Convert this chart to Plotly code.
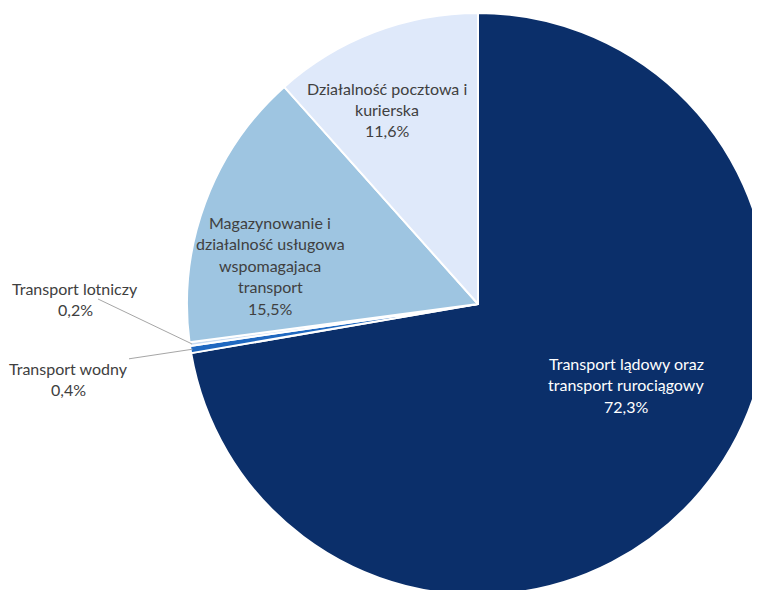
import math
import plotly.graph_objects as go

# ---- data ----
categories = [
    "Transport lądowy oraz transport rurociągowy",
    "Transport wodny",
    "Transport lotniczy",
    "Magazynowanie i działalność usługowa wspomagajaca transport",
    "Działalność pocztowa i kurierska",
]
display_labels = [
    ["Transport lądowy oraz", "transport rurociągowy"],
    ["Transport wodny"],
    ["Transport lotniczy"],
    ["Magazynowanie i", "działalność usługowa", "wspomagajaca", "transport"],
    ["Działalność pocztowa i", "kurierska"],
]
shares = [72.3, 0.4, 0.2, 15.5, 11.6]
colors = ["#0b2f6a", "#1f68c0", "#c9dcf2", "#9ec5e1", "#dfe9fa"]
text_colors = ["#ffffff", "#404040", "#404040", "#404040", "#404040"]
inside = [True, False, False, True, True]

# ---- layout constants ----
W, H = 790, 610          # slightly larger than the window so the pie is clipped like the original
FONT = "Lato, 'Open Sans', sans-serif"
FS = 16
LINE = 21.5              # label line spacing (px)
box = (179, 5, 761, 587)  # pie box in figure px (left, top, right, bottom)
# first-line centre of each label (figure px from top-left)
label_pos = [(618, 355), (60, 360), (67, 280), (262, 214), (379, 80)]


def pct(v):
    return f"{v:.1f}".replace(".", ",") + "%"


dom_x = [box[0] / W, box[2] / W]
dom_y = [1 - box[3] / H, 1 - box[1] / H]

fig = go.Figure(
    go.Pie(
        labels=categories,
        values=shares,
        textinfo="none",
        sort=False,
        direction="clockwise",
        rotation=0,
        marker=dict(colors=colors, line=dict(color="#ffffff", width=2)),
        domain=dict(x=dom_x, y=dom_y),
        hoverinfo="label+percent",
        showlegend=False,
    )
)

r = (box[2] - box[0]) / 2
cx = (box[0] + box[2]) / 2
cy = (box[1] + box[3]) / 2
total = sum(shares)
annotations = []
cum = 0
for i, v in enumerate(shares):
    mid = (cum + v / 2) / total * 2 * math.pi
    cum += v
    lines = display_labels[i] + [pct(v)]
    tx, ty = label_pos[i]
    font = dict(family=FONT, size=FS, color=text_colors[i])
    for k, line in enumerate(lines):
        ly = ty + k * LINE
        if k == 0 and not inside[i]:
            # leader line from the label to the slice edge
            px = cx + (r - 2) * math.sin(mid)
            py = cy - (r - 2) * math.cos(mid)
            annotations.append(dict(
                x=px / W, y=1 - py / H, xref="paper", yref="paper",
                text=line, showarrow=True, arrowhead=0, arrowwidth=1,
                arrowcolor="#a6a6a6", ax=tx - px, ay=ly - py, standoff=0,
                font=font,
            ))
        else:
            annotations.append(dict(
                x=tx / W, y=1 - ly / H, xref="paper", yref="paper",
                text=line, showarrow=False, xanchor="center", yanchor="middle",
                font=font,
            ))

fig.update_layout(
    width=W,
    height=H,
    margin=dict(l=0, r=0, t=0, b=0),
    paper_bgcolor="#ffffff",
    annotations=annotations,
)

fig.write_html("out.html")
